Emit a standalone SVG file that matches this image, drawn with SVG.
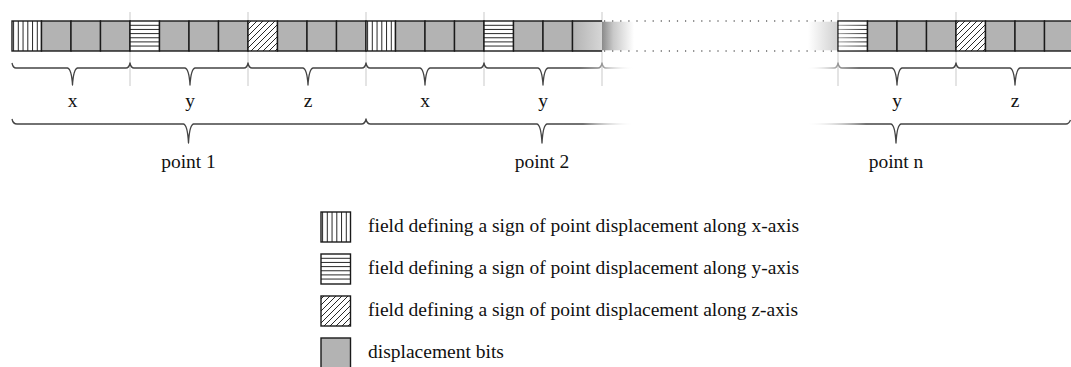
<svg xmlns="http://www.w3.org/2000/svg" xmlns:xlink="http://www.w3.org/1999/xlink" width="1071" height="367" viewBox="0 0 1071 367">
  <style>
    .grid { stroke: #c9c9c9; stroke-width: 1; }
    .edge { fill: none; stroke: #1a1a1a; stroke-width: 1.4; }
    .hatch { stroke: #111; stroke-width: 0.9; fill: none; }
    .brace { fill: none; stroke-width: 1.3; stroke-linejoin: round; }
    .dots { stroke: #666; stroke-width: 1.3; stroke-dasharray: 1.2 6.9; }
    .lbl { font-family: "Liberation Serif", "Times New Roman", serif; font-size: 19.5px; fill: #111; }
    .mid { text-anchor: middle; }
  </style>
  <defs>
    <clipPath id="cellClip"><rect x="0" y="0" width="29.5" height="30"/></clipPath>
    <!-- sign field, x-axis: vertical stripes -->
    <g id="vcell">
      <rect x="0" y="0" width="29.5" height="30" fill="#fff"/>
      <path class="hatch" d="M1.6,0V30M6.3,0V30M11.05,0V30M15.8,0V30M20.55,0V30M25.3,0V30"/>
      <rect class="edge" x="0" y="0" width="29.5" height="30"/>
    </g>
    <!-- sign field, y-axis: horizontal stripes -->
    <g id="hcell">
      <rect x="0" y="0" width="29.5" height="30" fill="#fff"/>
      <path class="hatch" d="M0,4.3H29.5M0,8.45H29.5M0,12.6H29.5M0,16.75H29.5M0,20.9H29.5M0,25.05H29.5"/>
      <rect class="edge" x="0" y="0" width="29.5" height="30"/>
    </g>
    <!-- sign field, z-axis: diagonal hatch -->
    <g id="dcell">
      <rect x="0" y="0" width="29.5" height="30" fill="#fff"/>
      <path class="hatch" clip-path="url(#cellClip)" d="M-27,30l30,-30M-21,30l30,-30M-15,30l30,-30M-9,30l30,-30M-3,30l30,-30M3,30l30,-30M9,30l30,-30M15,30l30,-30M21,30l30,-30M27,30l30,-30"/>
      <rect class="edge" x="0" y="0" width="29.5" height="30"/>
    </g>
    <!-- displacement bit -->
    <g id="gcell">
      <rect x="0" y="0" width="29.5" height="30" fill="#b3b3b3"/>
      <rect class="edge" x="0" y="0" width="29.5" height="30"/>
    </g>

    <linearGradient id="fadeCell" x1="0" y1="0" x2="1" y2="0">
      <stop offset="0" stop-color="#b3b3b3"/>
      <stop offset="1" stop-color="#d6d6d6"/>
    </linearGradient>
    <linearGradient id="fadeOut" x1="0" y1="0" x2="1" y2="0">
      <stop offset="0" stop-color="#8a8a8a"/>
      <stop offset="0.35" stop-color="#c8c8c8"/>
      <stop offset="1" stop-color="#ffffff"/>
    </linearGradient>
    <linearGradient id="fadeIn" x1="0" y1="0" x2="1" y2="0">
      <stop offset="0" stop-color="#ffffff"/>
      <stop offset="1" stop-color="#cfcfcf"/>
    </linearGradient>
    <linearGradient id="veil" x1="0" y1="0" x2="1" y2="0">
      <stop offset="0" stop-color="#fff" stop-opacity="0.55"/>
      <stop offset="1" stop-color="#fff" stop-opacity="0"/>
    </linearGradient>

    <linearGradient id="smallL" gradientUnits="userSpaceOnUse" x1="12" y1="0" x2="634" y2="0">
      <stop offset="0" stop-color="#444"/>
      <stop offset="0.913" stop-color="#444"/>
      <stop offset="0.949" stop-color="#999"/>
      <stop offset="1" stop-color="#fff" stop-opacity="0"/>
    </linearGradient>
    <linearGradient id="smallR" gradientUnits="userSpaceOnUse" x1="806" y1="0" x2="1071" y2="0">
      <stop offset="0" stop-color="#fff" stop-opacity="0"/>
      <stop offset="0.12" stop-color="#999"/>
      <stop offset="0.2" stop-color="#444"/>
      <stop offset="1" stop-color="#444"/>
    </linearGradient>
    <linearGradient id="bigL" gradientUnits="userSpaceOnUse" x1="12" y1="0" x2="634" y2="0">
      <stop offset="0" stop-color="#444"/>
      <stop offset="0.918" stop-color="#444"/>
      <stop offset="1" stop-color="#fff" stop-opacity="0"/>
    </linearGradient>
    <linearGradient id="bigR" gradientUnits="userSpaceOnUse" x1="806" y1="0" x2="866" y2="0">
      <stop offset="0" stop-color="#fff" stop-opacity="0"/>
      <stop offset="1" stop-color="#444"/>
    </linearGradient>
  </defs>

  <!-- field boundaries -->
  <g id="gridlines">
    <path class="grid" d="M130,12V86M248,12V86M366,12V86M484,12V86M838,12V86M956,12V86"/>
    <path class="grid" stroke="#dcdcdc" d="M602,12V86"/>
  </g>

  <!-- bit stream -->
  <g id="point1-cells">
    <use xlink:href="#vcell" x="12" y="21"/>
    <use xlink:href="#gcell" x="41.5" y="21"/>
    <use xlink:href="#gcell" x="71" y="21"/>
    <use xlink:href="#gcell" x="100.5" y="21"/>
    <use xlink:href="#hcell" x="130" y="21"/>
    <use xlink:href="#gcell" x="159.5" y="21"/>
    <use xlink:href="#gcell" x="189" y="21"/>
    <use xlink:href="#gcell" x="218.5" y="21"/>
    <use xlink:href="#dcell" x="248" y="21"/>
    <use xlink:href="#gcell" x="277.5" y="21"/>
    <use xlink:href="#gcell" x="307" y="21"/>
    <use xlink:href="#gcell" x="336.5" y="21"/>
  </g>
  <g id="point2-cells">
    <use xlink:href="#vcell" x="366" y="21"/>
    <use xlink:href="#gcell" x="395.5" y="21"/>
    <use xlink:href="#gcell" x="425" y="21"/>
    <use xlink:href="#gcell" x="454.5" y="21"/>
    <use xlink:href="#hcell" x="484" y="21"/>
    <use xlink:href="#gcell" x="513.5" y="21"/>
    <use xlink:href="#gcell" x="543" y="21"/>
    <rect x="572.5" y="21" width="29.5" height="30" fill="url(#fadeCell)"/>
    <path class="edge" d="M602,21H572.5V51H602"/>
    <rect x="602" y="21.7" width="32" height="28.6" fill="url(#fadeOut)"/>
  </g>
  <g id="gap-dots">
    <path class="dots" d="M604,21H838M604,51H838"/>
  </g>
  <g id="pointn-cells">
    <rect x="808" y="21.7" width="30" height="28.6" fill="url(#fadeIn)"/>
    <use xlink:href="#hcell" x="838" y="21"/>
    <rect x="838.7" y="21.7" width="28.5" height="28.6" fill="url(#veil)"/>
    <use xlink:href="#gcell" x="867.5" y="21"/>
    <use xlink:href="#gcell" x="897" y="21"/>
    <use xlink:href="#gcell" x="926.5" y="21"/>
    <use xlink:href="#dcell" x="956" y="21"/>
    <use xlink:href="#gcell" x="985.5" y="21"/>
    <use xlink:href="#gcell" x="1015" y="21"/>
    <use xlink:href="#gcell" x="1044.5" y="21"/>
  </g>

  <!-- per-coordinate braces -->
  <g id="braces">
    <path class="brace" stroke="url(#smallL)" d="M12,63Q13,68 16,68H67.5Q71.5,69 72.5,85Q73.5,69 77.5,68H126Q129,68 130,63Q131,68 134,68H185Q189,69 190,85Q191,69 195,68H244Q247,68 248,63Q249,68 252,68H303Q307,69 308,85Q309,69 313,68H362Q365,68 366,63Q367,68 370,68H420Q424,69 425,85Q426,69 430,68H480Q483,68 484,63Q485,68 488,68H538Q542,69 543,85Q544,69 548,68H598Q601,68 602,63Q603,68 606,68H634"/>
    <path class="brace" stroke="url(#smallR)" d="M806,68H834Q837,68 838,63Q839,68 842,68H892Q896,69 897,85Q898,69 902,68H952Q955,68 956,63Q957,68 960,68H1010Q1014,69 1015,85Q1016,69 1020,68H1071"/>
    <!-- per-point braces -->
    <path class="brace" stroke="url(#bigL)" d="M12,119Q13,124 17,124H183.5Q187.5,125 188.5,143Q189.5,125 193.5,124H361.5Q365,124 366,119Q367,124 370.5,124H537Q541,125 542,143Q543,125 547,124H634"/>
    <path class="brace" stroke="url(#bigR)" d="M806,124H891Q895,125 896,143Q897,125 901,124H1066Q1069,124 1070.5,120"/>
  </g>

  <g id="labels">
    <text class="lbl mid" x="72.5" y="107">x</text>
    <text class="lbl mid" x="190" y="107">y</text>
    <text class="lbl mid" x="308" y="107">z</text>
    <text class="lbl mid" x="425" y="107">x</text>
    <text class="lbl mid" x="543" y="107">y</text>
    <text class="lbl mid" x="897" y="107">y</text>
    <text class="lbl mid" x="1015" y="107">z</text>
    <text class="lbl mid" x="188.5" y="168">point 1</text>
    <text class="lbl mid" x="542" y="168">point 2</text>
    <text class="lbl mid" x="896" y="168">point n</text>
  </g>

  <!-- key -->
  <g id="legend">
    <g id="legend-x">
      <use xlink:href="#vcell" x="321" y="212"/>
      <text class="lbl" x="368" y="232">field defining a sign of point displacement along x-axis</text>
    </g>
    <g id="legend-y">
      <use xlink:href="#hcell" x="321" y="254"/>
      <text class="lbl" x="368" y="274">field defining a sign of point displacement along y-axis</text>
    </g>
    <g id="legend-z">
      <use xlink:href="#dcell" x="321" y="296"/>
      <text class="lbl" x="368" y="316">field defining a sign of point displacement along z-axis</text>
    </g>
    <g id="legend-bits">
      <use xlink:href="#gcell" x="321" y="338"/>
      <text class="lbl" x="368" y="358">displacement bits</text>
    </g>
  </g>
</svg>
